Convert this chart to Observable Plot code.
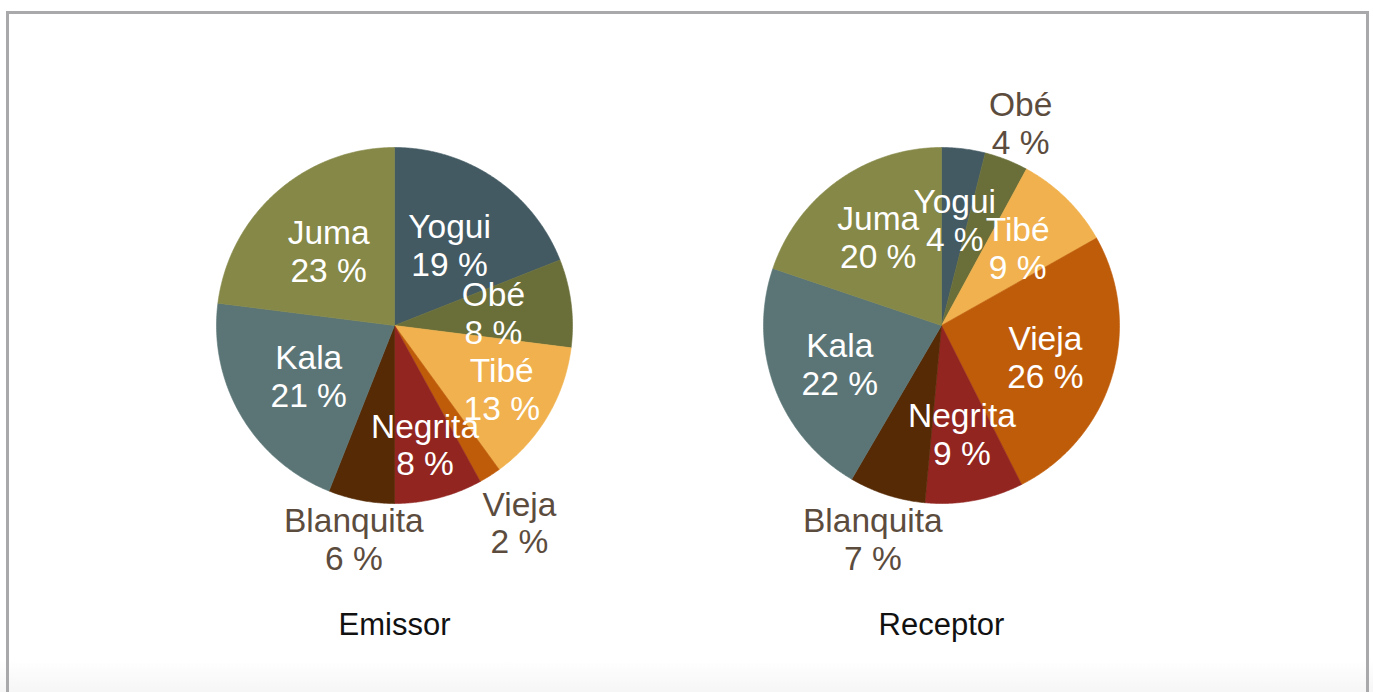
<!DOCTYPE html>
<html>
<head>
<meta charset="utf-8">
<script src="https://cdn.jsdelivr.net/npm/d3@7"></script>
<script src="https://cdn.jsdelivr.net/npm/@observablehq/plot@0.6"></script>
<style>
  html, body { margin: 0; padding: 0; background: #ffffff; }
  #wrap { position: relative; width: 1373px; height: 692px; overflow: hidden;
          background: linear-gradient(to bottom, #ffffff 0px, #ffffff 660px, #f6f6f6 692px); }
  #frame { position: absolute; left: 6px; top: 11px; width: 1357px; height: 700px;
           border: 3px solid #a9a9ab; box-sizing: content-box; }
  #chart { position: absolute; left: 0; top: 0; }
</style>
</head>
<body>
<div id="wrap"><div id="frame"></div><div id="chart"></div></div>
<script>
// ---- data ----
const names = ["Yogui", "Obé", "Tibé", "Vieja", "Negrita", "Blanquita", "Kala", "Juma"];
const emissorValues = [19, 8, 13, 2, 8, 6, 21, 23];
const receptorValues = [4, 4, 9, 26, 9, 7, 22, 20];
const chartTitles = ["Emissor", "Receptor"];
const sliceColors = ["#435a63", "#6a6e39", "#f0b14e", "#bf5c0a", "#922520", "#552a05", "#5b7576", "#858846"];

// ---- layout (not data) ----
const k = 178;                 // px per radius unit
const centersPx = [394, 941];  // pie centres
const cyPx = 325;
const W = 1373, H = 692;
// label radius (in radii) per slice; >1 means outside label
const labelRadius = [
  [0.55, 0.56, 0.70, 1.31, 0.69, 1.22, 0.56, 0.56],
  [0.60, 1.22, 0.61, 0.61, 0.62, 1.26, 0.61, 0.61]
];
const titleYpx = 625;

const seriesList = [emissorValues, receptorValues];
const pie = d3.pie().sort(null).value(d => d);

const slicePts = [];
const labels = [];
const titles = [];
seriesList.forEach((vals, p) => {
  const cx = (centersPx[p] - centersPx[0]) / k;
  const arcs = pie(vals);
  arcs.forEach((a, i) => {
    const key = chartTitles[p] + "-" + names[i];
    slicePts.push({key, name: names[i], x: cx, y: 0});
    const n = Math.max(2, Math.ceil((a.endAngle - a.startAngle) / (Math.PI / 360)));
    for (let j = 0; j <= n; j++) {
      const t = a.startAngle + (a.endAngle - a.startAngle) * j / n;
      slicePts.push({key, name: names[i], x: cx + Math.sin(t), y: Math.cos(t)});
    }
    slicePts.push({key, name: names[i], x: cx, y: 0});
    const m = (a.startAngle + a.endAngle) / 2;
    const r = labelRadius[p][i];
    labels.push({
      text: names[i] + "\n" + vals[i] + " %",
      x: cx + Math.sin(m) * r, y: Math.cos(m) * r,
      outside: r > 1
    });
  });
  titles.push({text: chartTitles[p], x: cx, y: (cyPx - titleYpx) / k});
});

const font = "Liberation Sans, Arial, Helvetica, sans-serif";
const chart = Plot.plot({
  width: W, height: H,
  margin: 0,
  style: {background: "transparent", fontFamily: font},
  x: {domain: [-centersPx[0] / k, (W - centersPx[0]) / k], axis: null},
  y: {domain: [-(H - cyPx) / k, cyPx / k], axis: null},
  color: {domain: names, range: sliceColors},
  marks: [
    Plot.line(slicePts, {x: "x", y: "y", z: "key", fill: "name", stroke: "name", strokeWidth: 0.6}),
    Plot.text(labels.filter(d => !d.outside), {x: "x", y: "y", text: "text", fill: "white",
      fontSize: 33.5, lineHeight: 1.13, ariaLabel: "inside-labels"}),
    Plot.text(labels.filter(d => d.outside), {x: "x", y: "y", text: "text", fill: "#5c4c3e",
      fontSize: 33.5, lineHeight: 1.13, ariaLabel: "outside-labels"}),
    Plot.text(titles, {x: "x", y: "y", text: "text", fill: "#111111", fontSize: 31})
  ]
});
document.getElementById("chart").appendChild(chart);
const svg = d3.select(chart);
const defs = svg.insert("defs", ":first-child");
defs.append("filter").attr("id", "shadowDark")
  .attr("x", "-20%").attr("y", "-20%").attr("width", "140%").attr("height", "150%")
  .append("feDropShadow").attr("dx", 0).attr("dy", 2).attr("stdDeviation", 1.4)
  .attr("flood-color", "#000").attr("flood-opacity", 0.65);
defs.append("filter").attr("id", "shadowLight")
  .attr("x", "-20%").attr("y", "-20%").attr("width", "140%").attr("height", "150%")
  .append("feDropShadow").attr("dx", 0).attr("dy", 2).attr("stdDeviation", 1.4)
  .attr("flood-color", "#000").attr("flood-opacity", 0.35);
svg.selectAll('g[aria-label="inside-labels"] text').attr("filter", "url(#shadowDark)");
svg.selectAll('g[aria-label="outside-labels"] text').attr("filter", "url(#shadowLight)");
</script>
</body>
</html>
